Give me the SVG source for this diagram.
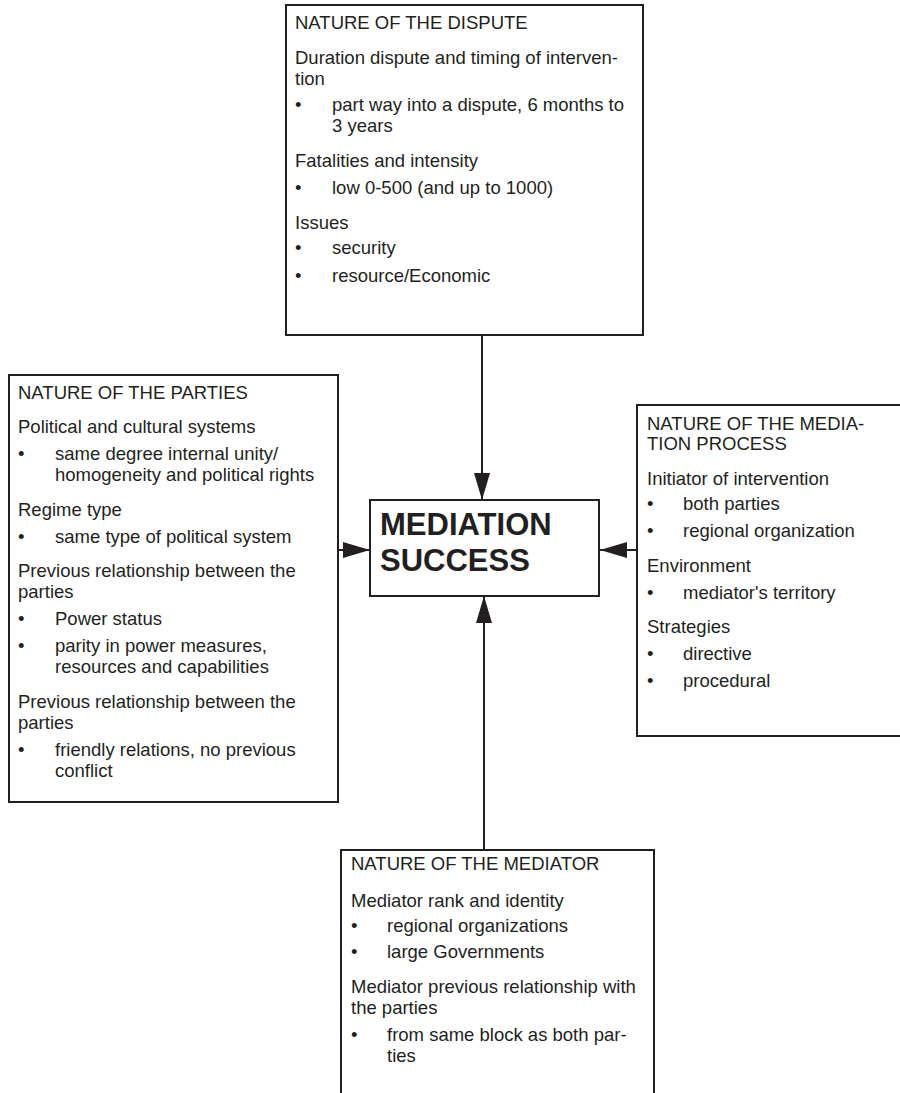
<svg xmlns="http://www.w3.org/2000/svg" width="900" height="1093" viewBox="0 0 900 1093">
  <style>
    .box { fill: #ffffff; stroke: #231f20; stroke-width: 2; }
    .t { font-family: "Liberation Sans", Arial, sans-serif; font-size: 18.5px; fill: #231f20; }
    .big { font-family: "Liberation Sans", Arial, sans-serif; font-size: 31px; font-weight: bold; fill: #231f20; }
    .link { stroke: #231f20; stroke-width: 2; fill: none; }
  </style>
  <defs>
    <marker id="arrow" markerUnits="userSpaceOnUse" markerWidth="28" markerHeight="18" refX="27" refY="8" orient="auto">
      <path d="M0,0 L27,8 L0,16 Z" fill="#231f20"/>
    </marker>
  </defs>
  <rect width="900" height="1093" fill="#ffffff"/>

  <!-- connectors -->
  <g id="connectors">
    <line class="link" x1="482" y1="336" x2="482" y2="500" marker-end="url(#arrow)"/>
    <line class="link" x1="338" y1="550" x2="370" y2="550" marker-end="url(#arrow)"/>
    <line class="link" x1="637" y1="550" x2="600" y2="550" marker-end="url(#arrow)"/>
    <line class="link" x1="484" y1="850" x2="484" y2="596" marker-end="url(#arrow)"/>
  </g>

  <!-- dispute -->
  <g id="dispute">
    <rect class="box" x="286" y="5" width="357" height="330"/>
    <text class="t" x="295" y="29">NATURE OF THE DISPUTE</text>
    <text class="t" x="295" y="64">Duration dispute and timing of interven-</text>
    <text class="t" x="295" y="85">tion</text>
    <text class="t" x="295" y="111">•</text>
    <text class="t" x="332" y="111">part way into a dispute, 6 months to</text>
    <text class="t" x="332" y="132">3 years</text>
    <text class="t" x="295" y="167">Fatalities and intensity</text>
    <text class="t" x="295" y="194">•</text>
    <text class="t" x="332" y="194">low 0-500 (and up to 1000)</text>
    <text class="t" x="295" y="229">Issues</text>
    <text class="t" x="295" y="254">•</text>
    <text class="t" x="332" y="254">security</text>
    <text class="t" x="295" y="282">•</text>
    <text class="t" x="332" y="282">resource/Economic</text>
  </g>

  <!-- parties -->
  <g id="parties">
    <rect class="box" x="9" y="375" width="329" height="427"/>
    <text class="t" x="18" y="399">NATURE OF THE PARTIES</text>
    <text class="t" x="18" y="433">Political and cultural systems</text>
    <text class="t" x="18" y="460">•</text>
    <text class="t" x="55" y="460">same degree internal unity/</text>
    <text class="t" x="55" y="481">homogeneity and political rights</text>
    <text class="t" x="18" y="516">Regime type</text>
    <text class="t" x="18" y="543">•</text>
    <text class="t" x="55" y="543">same type of political system</text>
    <text class="t" x="18" y="577">Previous relationship between the</text>
    <text class="t" x="18" y="598">parties</text>
    <text class="t" x="18" y="625">•</text>
    <text class="t" x="55" y="625">Power status</text>
    <text class="t" x="18" y="652">•</text>
    <text class="t" x="55" y="652">parity in power measures,</text>
    <text class="t" x="55" y="673">resources and capabilities</text>
    <text class="t" x="18" y="708">Previous relationship between the</text>
    <text class="t" x="18" y="729">parties</text>
    <text class="t" x="18" y="756">•</text>
    <text class="t" x="55" y="756">friendly relations, no previous</text>
    <text class="t" x="55" y="777">conflict</text>
  </g>

  <!-- outcome -->
  <g id="success">
    <rect class="box" x="370" y="500" width="229" height="96"/>
    <text class="big" x="380" y="535">MEDIATION</text>
    <text class="big" x="380" y="571">SUCCESS</text>
  </g>

  <!-- process -->
  <g id="process">
    <rect class="box" x="637" y="405" width="275" height="331"/>
    <text class="t" x="647" y="430">NATURE OF THE MEDIA-</text>
    <text class="t" x="647" y="450">TION PROCESS</text>
    <text class="t" x="647" y="485">Initiator of intervention</text>
    <text class="t" x="647" y="510">•</text>
    <text class="t" x="683" y="510">both parties</text>
    <text class="t" x="647" y="537">•</text>
    <text class="t" x="683" y="537">regional organization</text>
    <text class="t" x="647" y="572">Environment</text>
    <text class="t" x="647" y="599">•</text>
    <text class="t" x="683" y="599">mediator's territory</text>
    <text class="t" x="647" y="633">Strategies</text>
    <text class="t" x="647" y="660">•</text>
    <text class="t" x="683" y="660">directive</text>
    <text class="t" x="647" y="687">•</text>
    <text class="t" x="683" y="687">procedural</text>
  </g>

  <!-- mediator -->
  <g id="mediator">
    <rect class="box" x="341" y="850" width="313" height="260"/>
    <text class="t" x="351" y="870">NATURE OF THE MEDIATOR</text>
    <text class="t" x="351" y="907">Mediator rank and identity</text>
    <text class="t" x="351" y="932">•</text>
    <text class="t" x="387" y="932">regional organizations</text>
    <text class="t" x="351" y="958">•</text>
    <text class="t" x="387" y="958">large Governments</text>
    <text class="t" x="351" y="993">Mediator previous relationship with</text>
    <text class="t" x="351" y="1014">the parties</text>
    <text class="t" x="351" y="1041">•</text>
    <text class="t" x="387" y="1041">from same block as both par-</text>
    <text class="t" x="387" y="1062">ties</text>
  </g>
</svg>
